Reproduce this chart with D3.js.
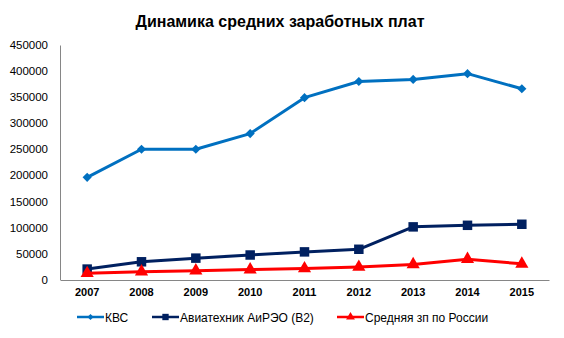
<!DOCTYPE html>
<html><head><meta charset="utf-8">
<script src="https://cdn.jsdelivr.net/npm/d3@7"></script>
<style>body{margin:0;background:#fff}svg{display:block;font-family:"Liberation Sans",Arial,sans-serif}</style>
</head><body><svg id="c" width="564" height="338"></svg>
<script>
const years = ["2007","2008","2009","2010","2011","2012","2013","2014","2015"];
const kvs = [196000,250000,250000,280000,349000,380000,384000,395000,366000];
const avia = [20000,34000,41000,47000,53000,58000,101000,104000,106000];
const russia = [12000,15000,17000,19000,21000,24000,29000,39000,30000];
const yTicks = [0,50000,100000,150000,200000,250000,300000,350000,400000,450000];
const seriesNames = ["КВС","Авиатехник АиРЭО (В2)","Средняя зп по России"];

const svg = d3.select("#c");
const L=60,R=549,T=45,B=279.5;
const x = d3.scaleBand().domain(years).range([L,R]);
const y = d3.scaleLinear().domain([0,450000]).range([B,T]);

svg.append("text").attr("x",280).attr("y",27).attr("text-anchor","middle")
  .attr("font-size",16).attr("font-weight","bold").attr("fill","#000")
  .text("Динамика средних заработных плат");

const ya = svg.append("g").attr("transform",`translate(${L},0)`)
  .call(d3.axisLeft(y).tickValues(yTicks).tickSize(0).tickPadding(12).tickFormat(d3.format("d")));
ya.select(".domain").attr("stroke","#868686");
ya.selectAll("text").attr("font-size",11.5).attr("fill","#000").attr("font-family","Liberation Sans, Arial");

const xa = svg.append("g").attr("transform",`translate(0,${B+0.5})`)
  .call(d3.axisBottom(x).tickSize(0).tickPadding(8));
xa.select(".domain").attr("stroke","#868686");
xa.selectAll("text").attr("font-size",11).attr("font-weight","bold").attr("fill","#000").attr("font-family","Liberation Sans, Arial");

const cx = d => x(d)+x.bandwidth()/2;
const series = [
  {name:seriesNames[0], vals:kvs, color:"#0070C0", w:3, sym:d3.symbolSquare, size:42, rot:45},
  {name:seriesNames[1], vals:avia, color:"#002060", w:3, sym:d3.symbolSquare, size:90, rot:0},
  {name:seriesNames[2], vals:russia, color:"#FF0000", w:3, sym:d3.symbolTriangle, size:75, rot:0}
];
const line = d3.line().x((d,i)=>cx(years[i])).y(d=>y(d));
series.forEach(s=>{
  svg.append("path").datum(s.vals).attr("d",line).attr("fill","none")
    .attr("stroke",s.color).attr("stroke-width",s.w).attr("stroke-linejoin","round");
  svg.append("g").selectAll("path").data(s.vals).join("path")
    .attr("transform",(d,i)=>`translate(${cx(years[i])},${y(d)}) rotate(${s.rot})`)
    .attr("d",d3.symbol().type(s.sym).size(s.size)).attr("fill",s.color);
});

// legend
const legX = [77,152,337];
series.forEach((s,i)=>{
  const g = svg.append("g").attr("transform",`translate(${legX[i]},317)`);
  g.append("line").attr("x1",0).attr("x2",27).attr("stroke",s.color).attr("stroke-width",2.5);
  g.append("path").attr("transform",`translate(13.5,0) rotate(${s.rot})`).attr("d",d3.symbol().type(s.sym).size(s.size*0.45)).attr("fill",s.color);
  g.append("text").attr("x",28).attr("y",4.5).attr("font-size",12).attr("fill","#000").text(s.name);
});
</script></body></html>
